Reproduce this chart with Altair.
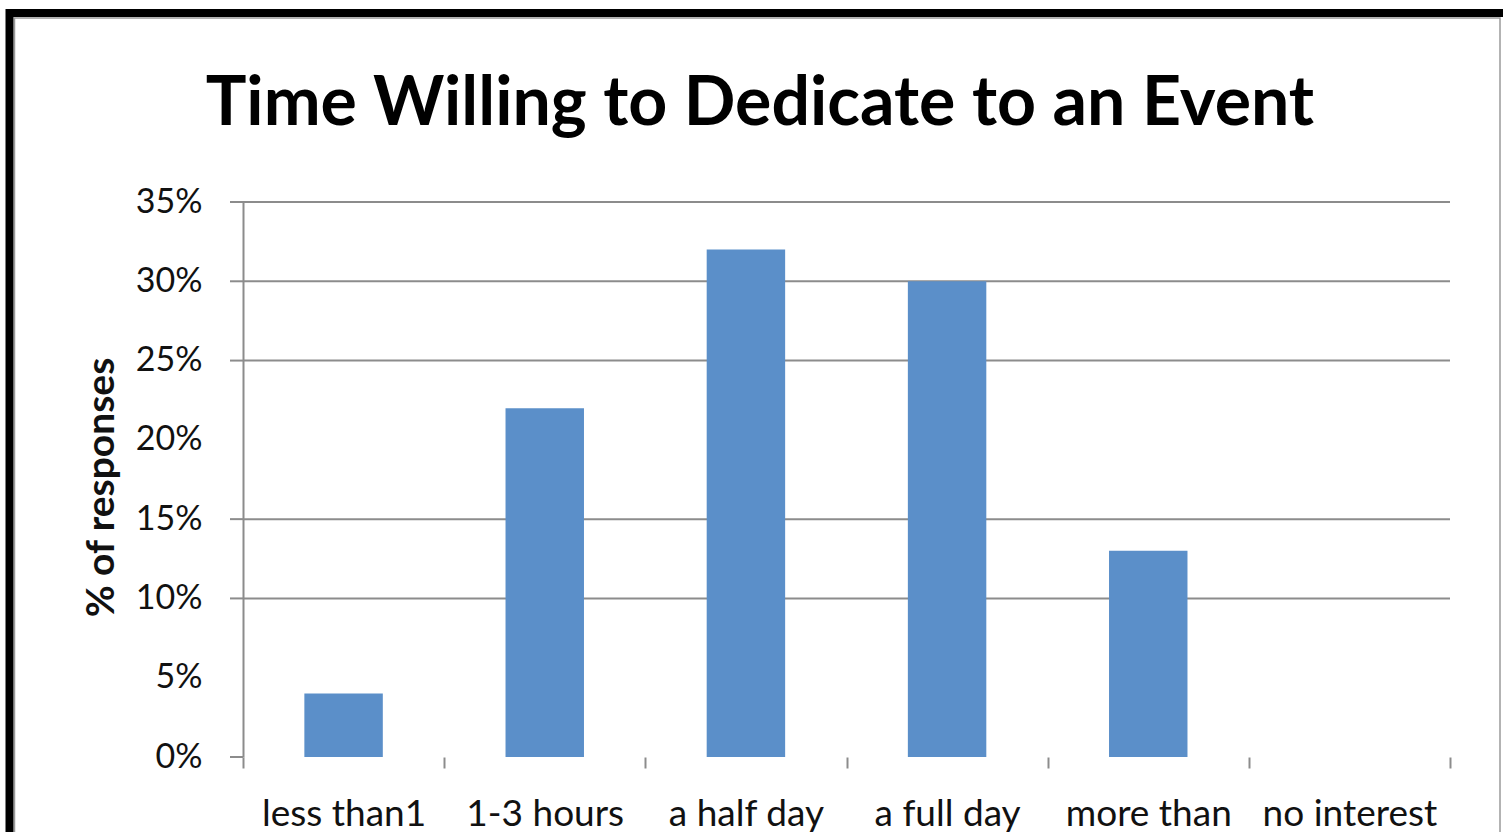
import altair as alt
import pandas as pd

categories = ["less than1", "1-3 hours", "a half day", "a full day", "more than", "no interest"]
values = [4, 22, 32, 30, 13, 0]
y_ticks = [0, 5, 10, 15, 20, 25, 30, 35]
grid_values = [10, 15, 25, 30, 35]
tick_values = [0, 10, 15, 25, 30, 35]
title_text = "Time Willing to Dedicate to an Event"
y_title = "% of responses"

df = pd.DataFrame({"category": categories, "value": values})
grid_df = pd.DataFrame({"value": grid_values})
tick_df = pd.DataFrame({"value": tick_values})
one_df = pd.DataFrame({"k": [0]})

W, H = 1207, 555
PL, PT, PR, PB = 243, 202, 53, 75
GREY = "#8C8C8C"
TXT = "#111111"

bars = alt.Chart(df).mark_bar(color="#5B8FC9", width=alt.RelativeBandSize(0.39)).encode(
    x=alt.X(
        "category:N", sort=categories,
        scale=alt.Scale(paddingInner=0, paddingOuter=0),
        axis=alt.Axis(
            title="", domain=False, tickBand="extent", tickColor=GREY, tickWidth=2, tickSize=11,
            labelFont="Lato", labelFontSize=37, labelColor=TXT, labelAngle=0,
            labelPadding=57, labelBaseline="alphabetic",
        ),
    ),
    y=alt.Y(
        "value:Q", title=y_title,
        scale=alt.Scale(domain=[0, 35], nice=False),
        axis=alt.Axis(
            title=y_title, values=y_ticks, labelExpr="datum.value + '%'",
            domainColor=GREY, domainWidth=2,
            tickColor=GREY, tickWidth=2, tickSize=13, tickOpacity=0,
            grid=False,
            labelFont="Lato", labelFontSize=34, labelColor=TXT, labelPadding=28,
            titleFont="Lato", titleFontWeight="bold", titleFontSize=39, titleColor=TXT,
            titleAngle=270, titleX=-130, titleY=285, titleAlign="center", titleBaseline="alphabetic",
        ),
    ),
)

grid = alt.Chart(grid_df).mark_rule(color=GREY, strokeWidth=2).encode(
    y=alt.Y("value:Q", title=y_title)
)
ticks = alt.Chart(tick_df).mark_rule(color=GREY, strokeWidth=2, clip=False).encode(
    y=alt.Y("value:Q", title=y_title), x=alt.value(-13), x2=alt.value(0)
)

frame = alt.Chart(one_df).mark_rect(fillOpacity=0, stroke="black", strokeWidth=8, clip=False).encode(
    x=alt.value(9.5 - PL), x2=alt.value(1530 - PL), y=alt.value(13 - PT), y2=alt.value(900 - PT)
)
inner = alt.Chart(one_df).mark_rect(fillOpacity=0, stroke="#9A9A9A", strokeWidth=1.5, clip=False).encode(
    x=alt.value(14.5 - PL), x2=alt.value(1500 - PL), y=alt.value(18 - PT), y2=alt.value(900 - PT)
)
title = alt.Chart(one_df).mark_text(
    text=title_text, font="Lato", fontSize=68, fontWeight="bold", color="black",
    align="center", baseline="alphabetic", clip=False,
).encode(x=alt.value(760 - PL), y=alt.value(125 - PT))

chart = alt.layer(inner, frame, grid, ticks, bars, title).properties(
    width=W, height=H,
    autosize="none",
    padding={"left": PL, "top": PT, "right": PR, "bottom": PB},
    background="white",
).configure_view(strokeWidth=0)

chart.save("out.html", embed_options={"renderer": "svg", "actions": False})
